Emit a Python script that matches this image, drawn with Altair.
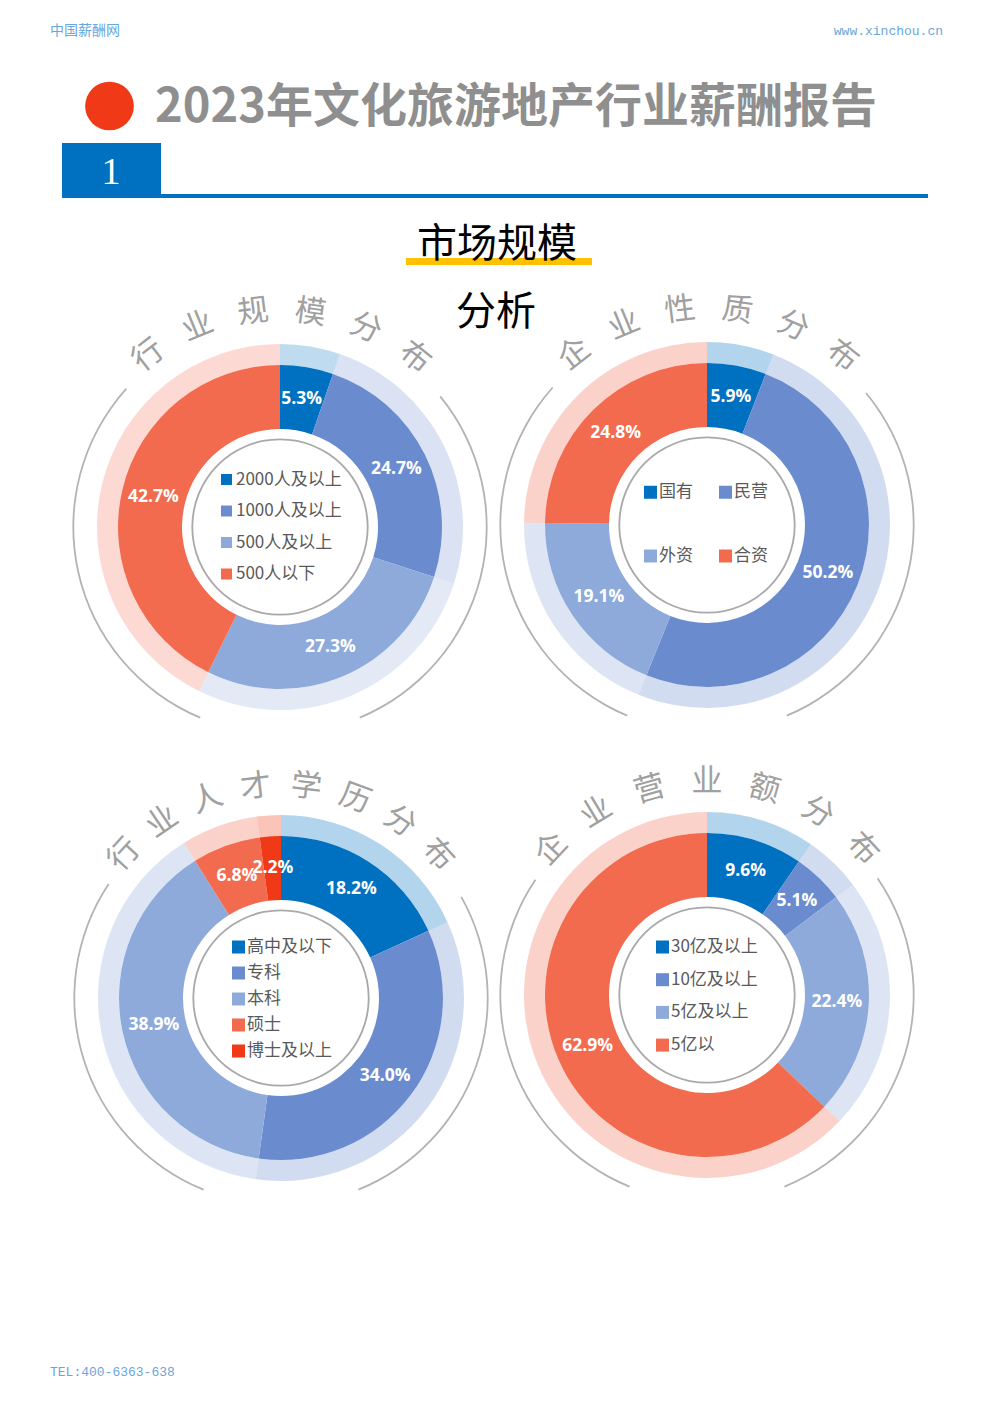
import math
import altair as alt
import pandas as pd

# ---------------- data ----------------
size_cats = ["2000人及以上", "1000人及以上", "500人及以上", "500人以下"]
size_vals = [5.3, 24.7, 27.3, 42.7]

nature_cats = ["国有", "民营", "外资", "合资"]
nature_vals = [5.9, 50.2, 19.1, 24.8]

edu_cats = ["高中及以下", "专科", "本科", "硕士", "博士及以上"]
edu_vals = [18.2, 34.0, 38.9, 6.8, 2.2]

rev_cats = ["30亿及以上", "10亿及以上", "5亿及以上", "5亿以"]
rev_vals = [9.6, 5.1, 22.4, 62.9]

titles = ["行业规模分布", "企业性质分布", "行业人才学历分布", "企业营业额分布"]

# ---------------- style ----------------
C_DARK, C_MID, C_LIGHT, C_RED, C_DEEP = "#0070c0", "#6a8ccf", "#8eaadb", "#f26b4f", "#f03a17"
O = 8  # page margin
W, H = 976, 1387
THETA = alt.Scale(domain=[0, 100], range=[0, 2 * math.pi], clamp=True)
CJK = "Noto Sans CJK SC"


def P(v):
    return v - O


def make_df(cats, vals):
    rows, s = [], 0.0
    for c, v in zip(cats, vals):
        rows.append(dict(cat=c, val=v, start=s, end=s + v, mid=s + v / 2, label=f"{v:.1f}%"))
        s += v
    return pd.DataFrame(rows)


def donut(cats, vals, colors, cx, cy, title, t_start, t_step, t_r,
          arc_right, arc_left, leg, ring_op=0.3):
    df = make_df(cats, vals)
    base = alt.Chart(df)
    xv, yv = alt.value(P(cx)), alt.value(P(cy))
    scale = alt.Scale(domain=cats, range=colors)
    legend = alt.Legend(
        title=None, orient="none", legendX=P(leg["x"]), legendY=P(leg["y"]),
        direction="horizontal" if leg.get("cols", 1) > 1 else "vertical",
        symbolType="square", symbolSize=leg["sym"] ** 2, symbolStrokeWidth=0,
        symbolOpacity=1, labelFont=CJK, labelFontSize=17, labelColor="#595959",
        labelOffset=leg.get("off", 0), rowPadding=leg["rp"], columns=leg.get("cols", 1),
        columnPadding=leg.get("cp", 10), padding=0, labelLimit=300)
    color = alt.Color("cat:N", scale=scale, legend=legend)
    ring = base.mark_arc(innerRadius=162, outerRadius=183, opacity=ring_op).encode(
        theta=alt.Theta("start:Q", scale=THETA, stack=None), theta2="end:Q",
        color=color, x=xv, y=yv)
    arcs = base.mark_arc(innerRadius=98, outerRadius=162).encode(
        theta=alt.Theta("start:Q", scale=THETA, stack=None), theta2="end:Q",
        color=color, x=xv, y=yv)
    labels = base.mark_text(font="Open Sans", fontWeight="bold", fontSize=17.5,
                            color="white", align="center", baseline="middle").encode(
        theta=alt.Theta("mid:Q", scale=THETA, stack=None), radius=alt.value(130),
        text="label:N", x=xv, y=yv)
    circ = alt.Chart(pd.DataFrame({"s": [0.0], "e": [100.0]})).mark_arc(
        innerRadius=86.8, outerRadius=88.6, color="#a9a9a9").encode(
        theta=alt.Theta("s:Q", scale=THETA, stack=None), theta2="e:Q", x=xv, y=yv)
    outer = alt.Chart(pd.DataFrame({
        "s": [arc_right[0] / 3.6, arc_left[0] / 3.6],
        "e": [arc_right[1] / 3.6, arc_left[1] / 3.6]})).mark_arc(
        innerRadius=205.8, outerRadius=207.6, color="#b3b3b3").encode(
        theta=alt.Theta("s:Q", scale=THETA, stack=None), theta2="e:Q", x=xv, y=yv)
    chars = list(title)
    degs = [t_start + t_step * i for i in range(len(chars))]
    tdf = pd.DataFrame({"ch": chars,
                        "tp": [(d % 360) / 3.6 for d in degs],
                        "rot": [d % 360 for d in degs]})
    tt = alt.Chart(tdf).mark_text(font=CJK, fontSize=31, color="#a0a0a0",
                                  align="center", baseline="middle").encode(
        theta=alt.Theta("tp:Q", scale=THETA, stack=None), radius=alt.value(t_r),
        angle=alt.Angle("rot:Q", scale=None), text="ch:N", x=xv, y=yv)
    return alt.layer(ring, arcs, labels, circ, outer, tt)


def text_layer(txt, x, y, **mark):
    return alt.Chart(pd.DataFrame({"t": [txt]})).mark_text(baseline="middle", **mark).encode(
        text="t:N", x=alt.value(P(x)), y=alt.value(P(y)))


def rect_layer(x1, x2, y1, y2, color):
    return alt.Chart(pd.DataFrame({"k": [1]})).mark_rect(color=color).encode(
        x=alt.value(P(x1)), x2=alt.value(P(x2)), y=alt.value(P(y1)), y2=alt.value(P(y2)))


header = [
    text_layer("中国薪酬网", 50, 31, font=CJK, fontSize=14, color="#6aa6dc", align="left"),
    text_layer("www.xinchou.cn", 943, 31, font="Liberation Mono", fontSize=13,
               color="#6aa6dc", align="right"),
    alt.Chart(pd.DataFrame({"k": [1]})).mark_circle(color="#f03a17", opacity=1,
                                                   size=math.pi * 27.5 ** 2).encode(
        x=alt.value(P(109.5)), y=alt.value(P(106))),
    text_layer("2023年文化旅游地产行业薪酬报告", 155, 108, font=CJK, fontSize=47,
               fontWeight="bold", color="#8f8f8f", align="left"),
    rect_layer(62, 161, 143, 197, "#0070c0"),
    rect_layer(62, 928, 194, 198, "#0070c0"),
    text_layer("1", 111, 173, font="Liberation Serif", fontSize=38, color="white",
               align="center"),
    rect_layer(406, 592, 258, 265, "#ffc000"),
    text_layer("市场规模", 497, 245, font=CJK, fontSize=40, color="black", align="center"),
    text_layer("分析", 496, 313, font=CJK, fontSize=40, color="black", align="center"),
    text_layer("TEL:400-6363-638", 50, 1372, font="Liberation Mono", fontSize=13,
               color="#6aa6dc", align="left"),
]

d1 = donut(size_cats, size_vals, [C_DARK, C_MID, C_LIGHT, C_RED], 280, 527,
           titles[0], -37.5, 15.2, 216, (50.8, 157.3), (202.7, 312.0),
           dict(x=218, y=471, sym=11, rp=13.5, off=1), ring_op=0.25)
d2 = donut(nature_cats, nature_vals, [C_DARK, C_MID, C_LIGHT, C_RED], 707, 525,
           titles[1], -37.8, 15.3, 216, (50.3, 157.3), (202.7, 311.7),
           dict(x=642, y=483.5, sym=13, rp=46, cols=2, cp=24, off=0))
d3 = donut(edu_cats, edu_vals, [C_DARK, C_MID, C_LIGHT, C_RED, C_DEEP], 281, 998,
           titles[2], -47.6, 13.6, 212, (60.7, 158.0), (202.0, 303.5),
           dict(x=230, y=938.5, sym=13, rp=8, off=0))
d4 = donut(rev_cats, rev_vals, [C_DARK, C_MID, C_LIGHT, C_RED], 707, 995,
           titles[3], -46.8, 15.6, 213, (55.6, 158.0), (202.0, 303.9),
           dict(x=654, y=938.5, sym=13, rp=14.7, off=0))

chart = alt.layer(*header, d1, d2, d3, d4).resolve_scale(color="independent").properties(
    width=W, height=H, padding=0, background="white"
).configure_view(stroke=None)

chart.save("out.html", embed_options={"renderer": "svg", "actions": False})
